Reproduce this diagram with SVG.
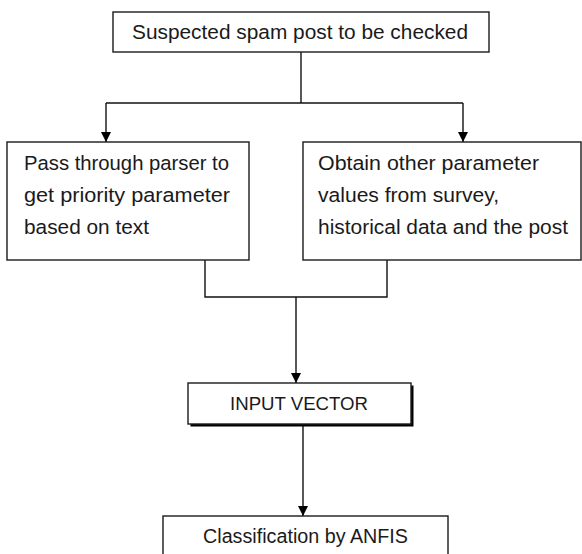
<svg xmlns="http://www.w3.org/2000/svg" width="582" height="554" viewBox="0 0 582 554">
<style>
.box{fill:#fff;stroke:#1a1a1a;stroke-width:1.4}
.ln{fill:none;stroke:#111;stroke-width:1.4}
.t{font-family:"Liberation Sans",Arial,sans-serif;font-size:20.5px;fill:#1a1a1a}
.c{text-anchor:middle}
</style>
<defs>
<marker id="ah" viewBox="0 0 10 10" refX="10" refY="5" markerWidth="10" markerHeight="10" markerUnits="userSpaceOnUse" orient="auto">
<path d="M0,0 L10,5 L0,10 Z" fill="#000"/>
</marker>
</defs>
<rect width="582" height="554" fill="#fff"/>
<g id="connectors">
<path class="ln" d="M301,52 V103"/>
<path class="ln" d="M106,103 H463"/>
<path class="ln" d="M106,103 V142" marker-end="url(#ah)"/>
<path class="ln" d="M463,103 V142" marker-end="url(#ah)"/>
<path class="ln" d="M205,260 V297 H387 V260"/>
<path class="ln" d="M296,297 V383" marker-end="url(#ah)"/>
<path class="ln" d="M303,424 V516" marker-end="url(#ah)"/>
</g>
<g id="node-spam">
<rect class="box" x="113" y="12" width="376" height="40"/>
<text class="t" x="132" y="39" textLength="336" lengthAdjust="spacingAndGlyphs">Suspected spam post to be checked</text>
</g>
<g id="node-parser">
<rect class="box" x="7" y="142" width="242" height="118"/>
<text class="t" x="24" y="170" textLength="205" lengthAdjust="spacingAndGlyphs">Pass through parser to</text>
<text class="t" x="24" y="202" textLength="206" lengthAdjust="spacingAndGlyphs">get priority parameter</text>
<text class="t" x="24" y="234" textLength="125" lengthAdjust="spacingAndGlyphs">based on text</text>
</g>
<g id="node-other">
<rect class="box" x="303" y="142" width="278" height="118"/>
<text class="t" x="318" y="170" textLength="221" lengthAdjust="spacingAndGlyphs">Obtain other parameter</text>
<text class="t" x="318" y="202" textLength="181" lengthAdjust="spacingAndGlyphs">values from survey,</text>
<text class="t" x="318" y="234" textLength="250" lengthAdjust="spacingAndGlyphs">historical data and the post</text>
</g>
<g id="node-input">
<rect x="190.5" y="385.5" width="223" height="41" fill="#000"/>
<rect class="box" x="188" y="383" width="223" height="41"/>
<text class="t" x="230" y="410" textLength="138" lengthAdjust="spacingAndGlyphs" style="font-size:18.5px">INPUT VECTOR</text>
</g>
<g id="node-anfis">
<rect class="box" x="163" y="516" width="285" height="50"/>
<text class="t" x="203" y="543" textLength="205" lengthAdjust="spacingAndGlyphs" style="font-size:20px">Classification by ANFIS</text>
</g>
</svg>
